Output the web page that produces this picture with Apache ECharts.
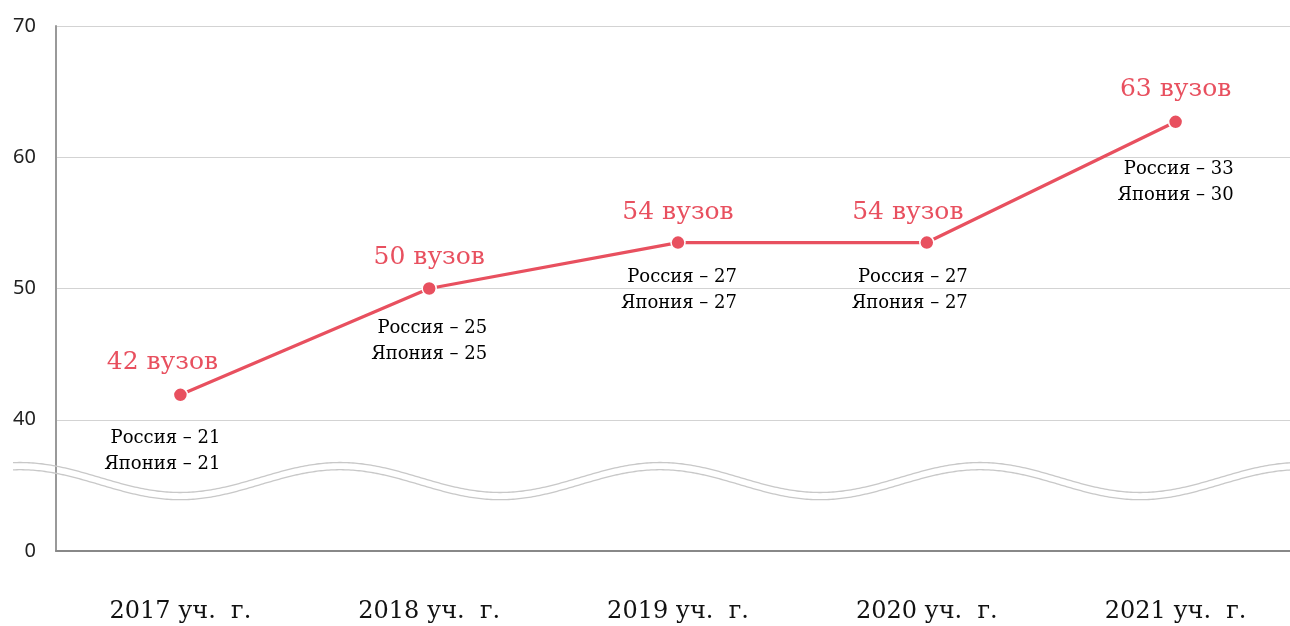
<!DOCTYPE html>
<html>
<head>
<meta charset="utf-8">
<script src="https://cdn.jsdelivr.net/npm/echarts@6/dist/echarts.min.js"></script>
<style>
html,body{margin:0;padding:0;background:#fff;overflow:hidden;width:1290px;height:626px;}
#chart{width:1300px;height:626px;}
</style>
</head>
<body>
<div id="chart"></div>
<script>
// ---- data ----
const categories = ['2017 уч.  г.', '2018 уч.  г.', '2019 уч.  г.', '2020 уч.  г.', '2021 уч.  г.'];
const plotValues = [41.9, 50, 53.5, 53.5, 62.7];
const totalLabels = [42, 50, 54, 54, 63];
const russia = [21, 25, 27, 27, 33];
const japan = [21, 25, 27, 27, 30];
const yTicks = [30, 40, 50, 60, 70];
const yTickText = ['0', '40', '50', '60', '70'];

// ---- layout (label offsets relative to the point) ----
const redOffsets = [[-18, -32], [0, -31], [0, -30], [-19, -30], [0, -32]];
const blackOffsets = [[40, 57], [58, 53], [59, 48], [41, 48], [58, 61]];

const RED = '#e8505f';
const chart = echarts.init(document.getElementById('chart'), null, {renderer: 'canvas', width: 1300, height: 626});

const option = {
  animation: false,
  backgroundColor: '#fff',
  grid: {left: 56, right: 0, top: 26, bottom: 75, containLabel: false},
  xAxis: {
    type: 'category',
    data: categories,
    boundaryGap: true,
    axisLine: {show: true, lineStyle: {color: '#888', width: 2}},
    axisTick: {show: false},
    axisLabel: {fontFamily: 'DejaVu Serif', fontSize: 24, color: '#111', margin: 49}
  },
  yAxis: {
    type: 'value',
    min: yTicks[0],
    max: yTicks[yTicks.length - 1],
    interval: 10,
    axisLine: {show: true, lineStyle: {color: '#999', width: 2}},
    axisTick: {show: false},
    splitLine: {show: true, lineStyle: {color: '#d3d3d3', width: 1}},
    axisLabel: {
      fontFamily: 'Noto Sans', fontSize: 20, color: '#222', margin: 20,
      formatter: function (v) { const i = yTicks.indexOf(v); return i >= 0 ? yTickText[i] : ''; }
    }
  },
  series: [
    {
      type: 'line',
      z: 5,
      data: plotValues.map(function (v, i) {
        return {value: v, label: {offset: redOffsets[i]}};
      }),
      lineStyle: {color: RED, width: 3.2},
      itemStyle: {color: RED, borderColor: '#fff', borderWidth: 1.5},
      symbol: 'circle',
      symbolSize: 14,
      label: {
        show: true,
        position: 'inside',
        align: 'center',
        verticalAlign: 'middle',
        fontFamily: 'DejaVu Serif',
        fontSize: 25,
        color: RED,
        formatter: function (p) { return totalLabels[p.dataIndex] + ' вузов'; }
      }
    },
    {
      type: 'line',
      z: 4,
      silent: true,
      data: plotValues.map(function (v, i) {
        return {value: v, label: {offset: blackOffsets[i]}};
      }),
      lineStyle: {width: 0, color: 'rgba(0,0,0,0)'},
      symbol: 'circle',
      symbolSize: 2,
      itemStyle: {color: 'rgba(0,0,0,0)'},
      label: {
        show: true,
        position: 'inside',
        align: 'right',
        verticalAlign: 'middle',
        fontFamily: 'DejaVu Serif',
        fontSize: 18,
        lineHeight: 26,
        color: '#000',
        formatter: function (p) {
          return 'Россия – ' + russia[p.dataIndex] + '\nЯпония – ' + japan[p.dataIndex];
        }
      }
    }
  ]
};
chart.setOption(option);

// ---- axis-break wave decoration ----
function wave(midValue) {
  const mid = chart.convertToPixel({yAxisIndex: 0}, midValue);
  const pts = [];
  for (let x = 13; x <= 1300; x += 2) {
    pts.push([x, mid + 15 * Math.cos(2 * Math.PI * (x - 180) / 320)]);
  }
  return pts;
}
chart.setOption({
  graphic: [
    {type: 'polyline', z: 3, shape: {points: wave(35.6)}, style: {stroke: '#c8c8c8', lineWidth: 1.3, fill: null}},
    {type: 'polyline', z: 3, shape: {points: wave(35.05)}, style: {stroke: '#c8c8c8', lineWidth: 1.3, fill: null}}
  ]
});
</script>
</body>
</html>
